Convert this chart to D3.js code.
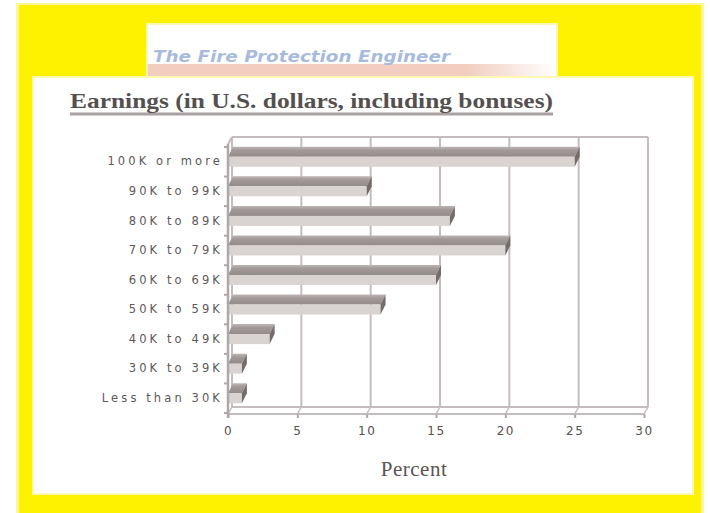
<!DOCTYPE html>
<html>
<head>
<meta charset="utf-8">
<script src="https://cdn.jsdelivr.net/npm/d3@7"></script>
<style>
  body { margin: 0; background: #fff; }
  svg { display: block; }
</style>
</head>
<body>
<div class="chart"></div>
<script>
let w = 710;
let h = 513;

// data
let categories = ["100K or more", "90K to 99K", "80K to 89K", "70K to 79K",
                  "60K to 69K", "50K to 59K", "40K to 49K", "30K to 39K", "Less than 30K"];
let percents = [25, 10, 16, 20, 15, 11, 3, 1, 1];
let xTicks = [0, 5, 10, 15, 20, 25, 30];

let viz = d3.select(".chart")
  .append("svg")
    .attr("width", w)
    .attr("height", h)
;

let defs = viz.append("defs");
let pink = defs.append("linearGradient").attr("id", "pinkbar");
pink.append("stop").attr("offset", "0%").attr("stop-color", "#f2cdc0");
pink.append("stop").attr("offset", "78%").attr("stop-color", "#f2cdc0");
pink.append("stop").attr("offset", "100%").attr("stop-color", "#ffffff");

let topFace = defs.append("linearGradient").attr("id", "topface")
  .attr("x1", 0).attr("y1", 0).attr("x2", 0).attr("y2", 1);
topFace.append("stop").attr("offset", "0%").attr("stop-color", "#bdb6b4");
topFace.append("stop").attr("offset", "35%").attr("stop-color", "#a29a98");
topFace.append("stop").attr("offset", "100%").attr("stop-color", "#938b89");

// yellow frame
viz.append("rect").attr("x", 16).attr("y", 3).attr("width", 688).attr("height", 512)
  .attr("fill", "#fff59a");
viz.append("rect").attr("x", 19).attr("y", 5).attr("width", 682).attr("height", 510)
  .attr("fill", "#fff200");

// header box
viz.append("rect").attr("x", 146).attr("y", 23).attr("width", 412).attr("height", 56)
  .attr("fill", "#fff8b0");
viz.append("rect").attr("x", 148).attr("y", 25).attr("width", 408).attr("height", 54)
  .attr("fill", "#ffffff");
viz.append("rect").attr("x", 148).attr("y", 64).attr("width", 408).attr("height", 15)
  .attr("fill", "url(#pinkbar)");
viz.append("text")
  .attr("x", 153).attr("y", 62)
  .attr("textLength", 297).attr("lengthAdjust", "spacingAndGlyphs")
  .attr("font-family", "DejaVu Sans, sans-serif")
  .attr("font-size", 15).attr("font-style", "italic").attr("font-weight", "bold")
  .attr("fill", "#a9bbdc")
  .text("The Fire Protection Engineer");

// main white panel
viz.append("rect").attr("x", 32).attr("y", 76).attr("width", 662).attr("height", 419)
  .attr("fill", "#fff8b0");
viz.append("rect").attr("x", 34).attr("y", 78).attr("width", 658).attr("height", 415)
  .attr("fill", "#ffffff");

// title
viz.append("line").attr("x1", 70).attr("x2", 553).attr("y1", 114).attr("y2", 114)
  .attr("stroke", "#aaa2a2").attr("stroke-width", 3);
viz.append("text")
  .attr("x", 70).attr("y", 108)
  .attr("textLength", 483).attr("lengthAdjust", "spacingAndGlyphs")
  .attr("font-family", "Liberation Serif, serif")
  .attr("font-size", 21).attr("font-weight", "bold")
  .attr("fill", "#555050")
  .text("Earnings (in U.S. dollars, including bonuses)");

// scales
let x = d3.scaleLinear().domain([0, 30]).range([228, 644]);
let y = d3.scaleBand().domain(categories).range([147, 413]);

let gdx = 4, gdy = -7;   // back wall offset
let bdx = 5, bdy = -10;  // bar depth
let floorY = 414;
let topY = 137;
let gridColor = "#c5bdbd";

let grid = viz.append("g").attr("class", "grid");

// back wall top edge and vertical gridlines
grid.append("line")
  .attr("x1", x(0) + gdx).attr("x2", x(30) + gdx)
  .attr("y1", topY).attr("y2", topY)
  .attr("stroke", gridColor).attr("stroke-width", 2);
grid.selectAll(".vgrid")
  .data(xTicks)
  .enter()
  .append("line")
    .attr("class", "vgrid")
    .attr("x1", d => x(d) + gdx).attr("x2", d => x(d) + gdx)
    .attr("y1", topY).attr("y2", floorY + gdy)
    .attr("stroke", gridColor).attr("stroke-width", 2)
;
// floor
grid.append("line")
  .attr("x1", x(0) + gdx).attr("x2", x(30) + gdx)
  .attr("y1", floorY + gdy).attr("y2", floorY + gdy)
  .attr("stroke", gridColor).attr("stroke-width", 2);
grid.append("line")
  .attr("x1", x(0)).attr("x2", x(30))
  .attr("y1", floorY).attr("y2", floorY)
  .attr("stroke", gridColor).attr("stroke-width", 2);
grid.selectAll(".slant")
  .data(xTicks)
  .enter()
  .append("line")
    .attr("x1", d => x(d)).attr("x2", d => x(d) + gdx)
    .attr("y1", floorY).attr("y2", floorY + gdy)
    .attr("stroke", gridColor).attr("stroke-width", 1.5)
;

// bars
let bars = viz.append("g").attr("class", "bars")
  .selectAll("g")
  .data(categories.map((c, i) => ({cat: c, val: percents[i]})))
  .enter()
  .append("g");

bars.append("path")
  .attr("d", d => {
    let yc = y(d.cat) + y.bandwidth() / 2;
    let x0 = x(0), x1 = x(d.val);
    return "M" + x0 + "," + (yc - 5) + "L" + x1 + "," + (yc - 5) +
           "L" + (x1 + bdx) + "," + (yc - 5 + bdy) + "L" + (x0 + bdx) + "," + (yc - 5 + bdy) + "Z";
  })
  .attr("fill", "url(#topface)");

bars.append("rect")
  .attr("x", x(0))
  .attr("y", d => y(d.cat) + y.bandwidth() / 2 - 5)
  .attr("width", d => x(d.val) - x(0))
  .attr("height", 10)
  .attr("fill", "#d9d4d2");

bars.append("path")
  .attr("d", d => {
    let yc = y(d.cat) + y.bandwidth() / 2;
    let x1 = x(d.val);
    return "M" + x1 + "," + (yc - 5) + "L" + (x1 + bdx) + "," + (yc - 5 + bdy) +
           "L" + (x1 + bdx) + "," + (yc + 5 + bdy) + "L" + x1 + "," + (yc + 5) + "Z";
  })
  .attr("fill", "#746c6a");

// left axis
let yAxis = viz.append("g")
  .attr("transform", "translate(" + x(0) + ",0)")
  .call(d3.axisLeft(y).tickSize(0).tickPadding(5));
yAxis.select(".domain").remove();
yAxis.selectAll("text")
  .attr("font-family", "DejaVu Sans, sans-serif")
  .attr("font-size", 11.5)
  .attr("letter-spacing", 3.1)
  .attr("fill", "#5e5858");

viz.append("line")
  .attr("x1", x(0)).attr("x2", x(0))
  .attr("y1", topY - gdy).attr("y2", floorY + 4)
  .attr("stroke", "#b0a8a8").attr("stroke-width", 2.5);
viz.append("line")
  .attr("x1", x(0)).attr("x2", x(0) + gdx)
  .attr("y1", topY - gdy).attr("y2", topY)
  .attr("stroke", gridColor).attr("stroke-width", 2);
viz.selectAll(".ytick")
  .data(categories.concat(["end"]))
  .enter()
  .append("line")
    .attr("x1", x(0) - 4).attr("x2", x(0))
    .attr("y1", (d, i) => y.range()[0] + i * y.step())
    .attr("y2", (d, i) => y.range()[0] + i * y.step())
    .attr("stroke", "#b0a8a8").attr("stroke-width", 2)
;

// bottom axis
let xAxis = viz.append("g")
  .attr("transform", "translate(0," + floorY + ")")
  .call(d3.axisBottom(x).tickValues(xTicks).tickSize(4).tickPadding(8));
xAxis.select(".domain").remove();
xAxis.selectAll("line").attr("stroke", "#b0a8a8").attr("stroke-width", 2);
xAxis.selectAll("text")
  .attr("font-family", "DejaVu Sans, sans-serif")
  .attr("font-size", 12)
  .attr("letter-spacing", 1.5)
  .attr("fill", "#555050");

viz.append("text")
  .attr("x", 414).attr("y", 476)
  .attr("text-anchor", "middle")
  .attr("font-family", "Liberation Serif, serif")
  .attr("font-size", 21)
  .attr("letter-spacing", 0.5)
  .attr("fill", "#5a5454")
  .text("Percent");
</script>
</body>
</html>
